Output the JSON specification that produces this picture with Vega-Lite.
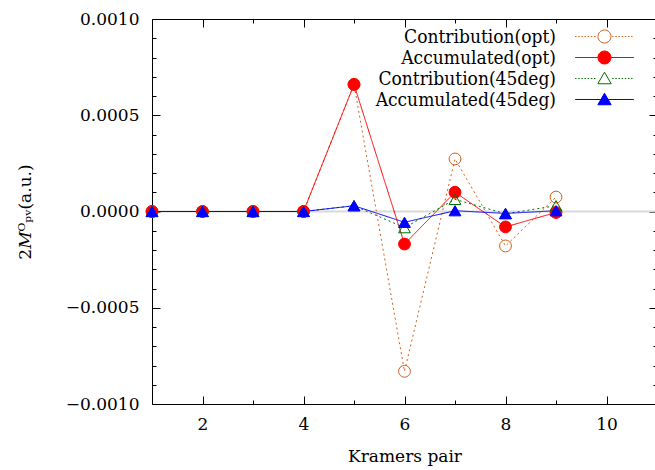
{
"$schema":"https://vega.github.io/schema/vega-lite/v6.json",
"width":505,"height":385,"autosize":"none",
"padding":{"left":152,"top":19,"right":0,"bottom":66},
"config":{
 "font":"DejaVu Serif",
 "view":{"stroke":"black","strokeWidth":1},
 "axis":{"labelFont":"DejaVu Serif","titleFont":"DejaVu Serif","labelFontSize":17,"titleFontSize":17,"labelColor":"black","titleColor":"black","tickColor":"black","titleFontWeight":"normal","grid":false,"domain":false,"labelOverlap":false,"labelFlush":false},
 "legend":{"labelFont":"DejaVu Serif Condensed","labelFontSize":19,"labelColor":"black","labelLimit":400}
},
"data":{"values":[
 {"pair":1,"value":0,"series":"Contribution(opt)"},
 {"pair":2,"value":0,"series":"Contribution(opt)"},
 {"pair":3,"value":0,"series":"Contribution(opt)"},
 {"pair":4,"value":0,"series":"Contribution(opt)"},
 {"pair":5,"value":0.00066,"series":"Contribution(opt)"},
 {"pair":6,"value":-0.00083,"series":"Contribution(opt)"},
 {"pair":7,"value":0.000273,"series":"Contribution(opt)"},
 {"pair":8,"value":-0.000179,"series":"Contribution(opt)"},
 {"pair":9,"value":0.000075,"series":"Contribution(opt)"},
 {"pair":1,"value":0,"series":"Accumulated(opt)"},
 {"pair":2,"value":0,"series":"Accumulated(opt)"},
 {"pair":3,"value":0,"series":"Accumulated(opt)"},
 {"pair":4,"value":0,"series":"Accumulated(opt)"},
 {"pair":5,"value":0.00066,"series":"Accumulated(opt)"},
 {"pair":6,"value":-0.000169,"series":"Accumulated(opt)"},
 {"pair":7,"value":0.0001,"series":"Accumulated(opt)"},
 {"pair":8,"value":-0.00008,"series":"Accumulated(opt)"},
 {"pair":9,"value":-0.000005,"series":"Accumulated(opt)"},
 {"pair":1,"value":0,"series":"Contribution(45deg)"},
 {"pair":2,"value":0,"series":"Contribution(45deg)"},
 {"pair":3,"value":0,"series":"Contribution(45deg)"},
 {"pair":4,"value":0,"series":"Contribution(45deg)"},
 {"pair":5,"value":0.00003,"series":"Contribution(45deg)"},
 {"pair":6,"value":-0.000084,"series":"Contribution(45deg)"},
 {"pair":7,"value":0.000063,"series":"Contribution(45deg)"},
 {"pair":8,"value":-0.000012,"series":"Contribution(45deg)"},
 {"pair":9,"value":0.00003,"series":"Contribution(45deg)"},
 {"pair":1,"value":0,"series":"Accumulated(45deg)"},
 {"pair":2,"value":0,"series":"Accumulated(45deg)"},
 {"pair":3,"value":0,"series":"Accumulated(45deg)"},
 {"pair":4,"value":0,"series":"Accumulated(45deg)"},
 {"pair":5,"value":0.00003,"series":"Accumulated(45deg)"},
 {"pair":6,"value":-0.000056,"series":"Accumulated(45deg)"},
 {"pair":7,"value":0.000004,"series":"Accumulated(45deg)"},
 {"pair":8,"value":-0.00001,"series":"Accumulated(45deg)"},
 {"pair":9,"value":0.000004,"series":"Accumulated(45deg)"}
]},
"layer":[
 {"data":{"values":[{"z":0}]},
  "mark":{"type":"rule","color":"#d9d9d9","strokeWidth":2},
  "encoding":{"y":{"field":"z","type":"quantitative","axis":null}}},
 {"mark":{"type":"line","strokeWidth":1},
  "encoding":{
   "x":{"field":"pair","type":"quantitative","scale":{"domain":[1,11],"nice":false,"zero":false},
        "axis":{"orient":"bottom","title":"Kramers pair","values":[1,2,3,4,5,6,7,8,9,10,11],
                "labelExpr":"datum.value % 2 == 0 ? datum.label : ''",
                "tickSize":{"condition":{"test":"datum.value % 2 == 0","value":-8},"value":-4},
                "labelPadding":20,"titlePadding":12}},
   "y":{"field":"value","type":"quantitative","scale":{"domain":[-0.001,0.001],"nice":false,"zero":false},
        "axis":{"orient":"left","title":"2𝑀ᴼₚᵥ(a.u.)","format":".4f",
                "values":[-0.001,-0.0009,-0.0008,-0.0007,-0.0006,-0.0005,-0.0004,-0.0003,-0.0002,-0.0001,0,0.0001,0.0002,0.0003,0.0004,0.0005,0.0006,0.0007,0.0008,0.0009,0.001],
                "labelExpr":"abs(round(datum.value*10000)) % 5 == 0 ? datum.label : ''",
                "tickSize":{"condition":{"test":"abs(round(datum.value*10000)) % 5 == 0","value":-8},"value":-4},
                "labelPadding":21,"titlePadding":31}},
   "color":{"field":"series","type":"nominal",
            "scale":{"domain":["Contribution(opt)","Accumulated(opt)","Contribution(45deg)","Accumulated(45deg)"],
                     "range":["#d2601c","#ff0000","#007000","#0000ff"]},"legend":null},
   "strokeDash":{"field":"series","type":"nominal",
            "scale":{"domain":["Contribution(opt)","Accumulated(opt)","Contribution(45deg)","Accumulated(45deg)"],
                     "range":[[2,3],[1,0],[2,3],[1,0]]},"legend":null}
  }},
 {"mark":{"type":"point","strokeWidth":1,"opacity":1,"size":140},
  "encoding":{
   "x":{"field":"pair","type":"quantitative",
        "axis":{"orient":"top","title":null,"labels":false,"values":[1,2,3,4,5,6,7,8,9,10,11],
                "tickSize":{"condition":{"test":"datum.value % 2 == 0","value":-8},"value":-4}}},
   "y":{"field":"value","type":"quantitative",
        "axis":{"orient":"right","title":null,"labels":false,
                "values":[-0.001,-0.0009,-0.0008,-0.0007,-0.0006,-0.0005,-0.0004,-0.0003,-0.0002,-0.0001,0,0.0001,0.0002,0.0003,0.0004,0.0005,0.0006,0.0007,0.0008,0.0009,0.001],
                "tickSize":{"condition":{"test":"abs(round(datum.value*10000)) % 5 == 0","value":-8},"value":-4}}},
   "color":{"field":"series","type":"nominal",
            "scale":{"domain":["Contribution(opt)","Accumulated(opt)","Contribution(45deg)","Accumulated(45deg)"],
                     "range":["#d2601c","#ff0000","#007000","#0000ff"]},"legend":null},
   "shape":{"field":"series","type":"nominal",
            "scale":{"domain":["Contribution(opt)","Accumulated(opt)","Contribution(45deg)","Accumulated(45deg)"],
                     "range":["circle","circle","triangle-up","triangle-up"]},"legend":null},
   "fill":{"field":"series","type":"nominal",
            "scale":{"domain":["Contribution(opt)","Accumulated(opt)","Contribution(45deg)","Accumulated(45deg)"],
                     "range":["transparent","#ff0000","transparent","#0000ff"]},"legend":null}
  }},
 {"transform":[{"filter":"false"}],
  "mark":{"type":"point","strokeWidth":1,"opacity":1,"size":196},
  "encoding":{
   "x":{"field":"pair","type":"quantitative","axis":null},
   "y":{"field":"value","type":"quantitative","axis":null},
   "color":{"field":"series","type":"nominal",
            "scale":{"domain":["Contribution(opt)","Accumulated(opt)","Contribution(45deg)","Accumulated(45deg)"],
                     "range":["#d2601c","#ff0000","#007000","#0000ff"]},
            "legend":{"orient":"none","legendX":443,"legendY":8,"title":null,"labelAlign":"right","labelOffset":-58,
                      "symbolSize":196,"symbolStrokeWidth":1,"rowPadding":1,"labelLimit":400}},
   "shape":{"field":"series","type":"nominal",
            "scale":{"domain":["Contribution(opt)","Accumulated(opt)","Contribution(45deg)","Accumulated(45deg)"],
                     "range":[
                       "M-4.2,0h0.2M-3.75,0h0.2M-3.3,0h0.2M-2.85,0h0.2M-2.4,0h0.2M-1.95,0h0.2M-1.5,0h0.2M1.1,0h0.2M1.55,0h0.2M2,0h0.2M2.45,0h0.2M2.9,0h0.2M3.35,0h0.2M3.8,0h0.2M-0.93,0A0.93,0.93,0,1,0,0.93,0A0.93,0.93,0,1,0,-0.93,0Z",
                       "M-4.2,0H4.2M-0.93,0A0.93,0.93,0,1,0,0.93,0A0.93,0.93,0,1,0,-0.93,0Z",
                       "M-4.2,0h0.2M-3.75,0h0.2M-3.3,0h0.2M-2.85,0h0.2M-2.4,0h0.2M-1.95,0h0.2M-1.5,0h0.2M1.1,0h0.2M1.55,0h0.2M2,0h0.2M2.45,0h0.2M2.9,0h0.2M3.35,0h0.2M3.8,0h0.2M0,-0.9L0.95,0.75L-0.95,0.75Z",
                       "M-4.2,0H4.2M0,-0.9L0.95,0.75L-0.95,0.75Z"]},
            "legend":{"orient":"none","legendX":443,"legendY":8,"title":null,"labelAlign":"right","labelOffset":-58,
                      "symbolSize":196,"symbolStrokeWidth":1,"rowPadding":1,"labelLimit":400}},
   "fill":{"field":"series","type":"nominal",
            "scale":{"domain":["Contribution(opt)","Accumulated(opt)","Contribution(45deg)","Accumulated(45deg)"],
                     "range":["transparent","#ff0000","transparent","#0000ff"]},
            "legend":{"orient":"none","legendX":443,"legendY":8,"title":null,"labelAlign":"right","labelOffset":-58,
                      "symbolSize":196,"symbolStrokeWidth":1,"rowPadding":1,"labelLimit":400}}
  }}
],
"resolve":{"scale":{"color":"independent","shape":"independent","fill":"independent","strokeDash":"independent"},
           "axis":{"x":"independent","y":"independent"},
           "legend":{"color":"independent","shape":"independent","fill":"independent"}}
}
